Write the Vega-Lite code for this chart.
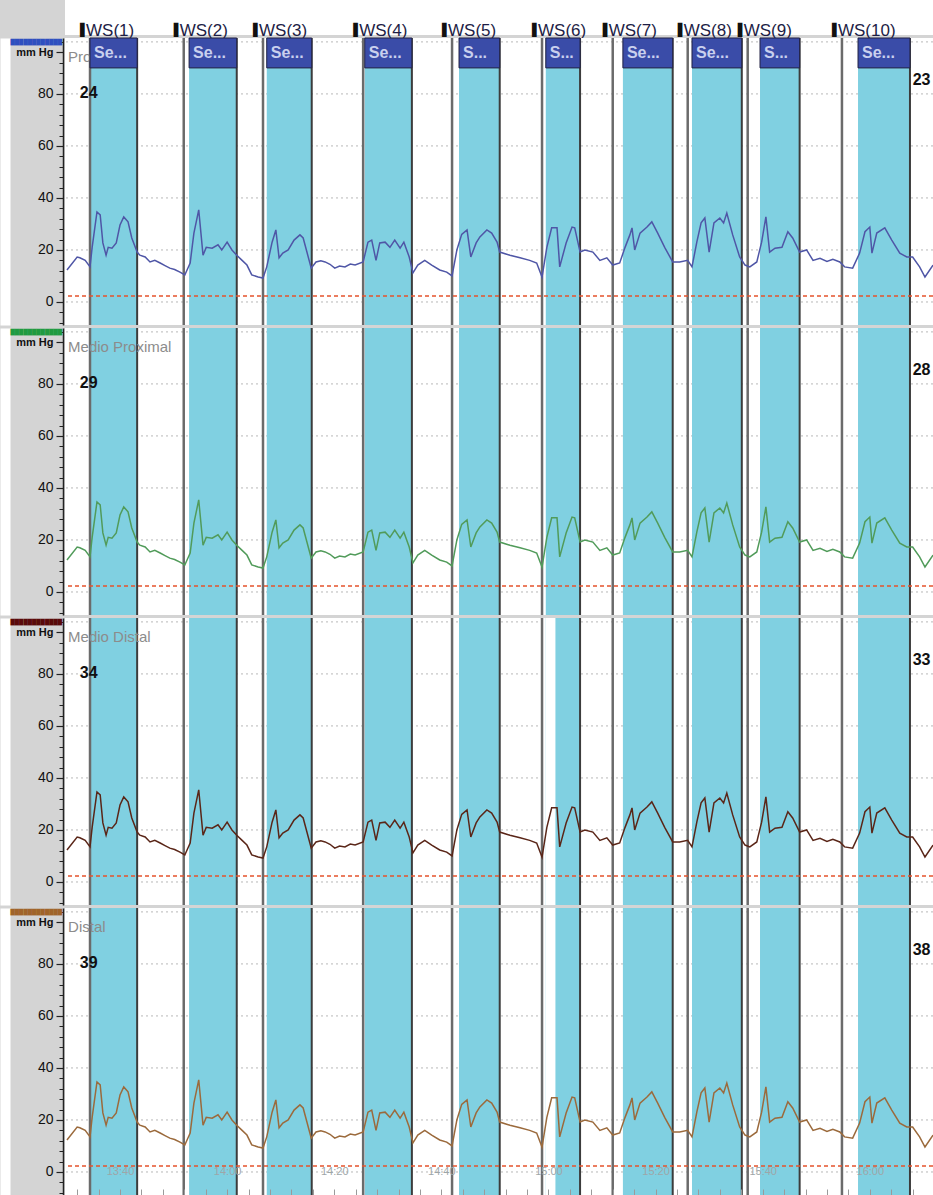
{
"$schema": "https://vega.github.io/schema/vega-lite/v6.json",
"padding": {"left": 5, "top": 0, "right": 0, "bottom": 0},
"background": "#d4d4d4",
"bounds": "flush",
"spacing": 3,
"config": {"view": {"stroke": null, "fill": "white"}, "font": "Liberation Sans", "axis": {"labelOverlap": false}},
"datasets": {
"ws": [{"t":34.4,"name":"WS(1)"},{"t":51.9,"name":"WS(2)"},{"t":66.7,"name":"WS(3)"},{"t":85.4,"name":"WS(4)"},{"t":102.0,"name":"WS(5)"},{"t":118.8,"name":"WS(6)"},{"t":132.0,"name":"WS(7)"},{"t":146.0,"name":"WS(8)"},{"t":157.2,"name":"WS(9)"},{"t":174.8,"name":"WS(10)"}],
"bands": [{"start":34.4,"end":43.2,"hdr":"Se..."},{"start":52.9,"end":61.8,"hdr":"Se..."},{"start":67.4,"end":75.8,"hdr":"Se..."},{"start":85.7,"end":94.5,"hdr":"Se..."},{"start":103.3,"end":110.9,"hdr":"S..."},{"start":119.5,"end":125.9,"hdr":"S..."},{"start":133.9,"end":143.2,"hdr":"Se..."},{"start":146.8,"end":156.1,"hdr":"Se..."},{"start":159.5,"end":166.9,"hdr":"S..."},{"start":177.8,"end":187.5,"hdr":"Se..."}],
"gaps": [{"start":119.5,"end":121.3}],
"refs": [{"level":2.3}],
"grid": [{"level":0},{"level":20},{"level":40},{"level":60},{"level":80},{"level":100}],
"panels": [{"panel":1,"name":"Proximal","left":"24","right":"23"},{"panel":2,"name":"Medio Proximal","left":"29","right":"28"},{"panel":3,"name":"Medio Distal","left":"34","right":"33"},{"panel":4,"name":"Distal","left":"39","right":"38"}],
"trace": [{"t":30.1,"p":12.3},{"t":32.0,"p":17.3},{"t":32.5,"p":17.0},{"t":33.5,"p":16.0},{"t":34.4,"p":13.5},{"t":34.8,"p":21.0},{"t":35.7,"p":34.6},{"t":36.3,"p":33.5},{"t":36.8,"p":22.7},{"t":37.4,"p":18.0},{"t":37.8,"p":21.0},{"t":38.5,"p":20.7},{"t":39.3,"p":22.7},{"t":40.0,"p":29.6},{"t":40.7,"p":32.7},{"t":41.5,"p":30.8},{"t":42.2,"p":24.6},{"t":43.2,"p":19.2},{"t":43.7,"p":18.0},{"t":44.7,"p":17.3},{"t":45.6,"p":15.4},{"t":46.5,"p":16.0},{"t":47.5,"p":15.0},{"t":48.4,"p":14.0},{"t":49.3,"p":13.0},{"t":50.2,"p":12.5},{"t":51.2,"p":11.5},{"t":52.1,"p":10.4},{"t":53.1,"p":15.0},{"t":53.8,"p":26.5},{"t":54.7,"p":35.4},{"t":55.5,"p":18.0},{"t":56.1,"p":21.0},{"t":57.2,"p":20.7},{"t":58.3,"p":22.0},{"t":59.0,"p":20.0},{"t":60.0,"p":23.0},{"t":60.9,"p":20.0},{"t":61.8,"p":18.0},{"t":62.8,"p":16.0},{"t":63.7,"p":14.2},{"t":64.6,"p":10.4},{"t":65.8,"p":9.6},{"t":66.7,"p":9.2},{"t":67.4,"p":13.5},{"t":68.4,"p":23.0},{"t":69.1,"p":27.7},{"t":69.7,"p":17.0},{"t":70.4,"p":18.8},{"t":71.4,"p":20.0},{"t":72.5,"p":23.8},{"t":73.6,"p":25.8},{"t":74.2,"p":24.6},{"t":74.9,"p":19.2},{"t":75.7,"p":13.0},{"t":76.6,"p":15.4},{"t":77.5,"p":15.8},{"t":78.3,"p":15.4},{"t":79.2,"p":14.5},{"t":80.1,"p":13.0},{"t":81.0,"p":13.8},{"t":82.0,"p":13.5},{"t":83.0,"p":14.6},{"t":83.9,"p":14.2},{"t":85.4,"p":15.4},{"t":86.3,"p":23.0},{"t":87.0,"p":23.8},{"t":87.8,"p":16.0},{"t":88.5,"p":22.7},{"t":89.5,"p":23.0},{"t":90.4,"p":21.0},{"t":91.3,"p":23.8},{"t":92.3,"p":20.7},{"t":93.0,"p":23.0},{"t":94.0,"p":17.3},{"t":94.7,"p":11.2},{"t":95.6,"p":14.2},{"t":96.9,"p":16.0},{"t":98.2,"p":14.2},{"t":99.7,"p":12.3},{"t":101.0,"p":11.5},{"t":102.0,"p":10.0},{"t":102.9,"p":20.0},{"t":103.8,"p":26.0},{"t":104.8,"p":27.7},{"t":105.5,"p":17.3},{"t":106.5,"p":22.7},{"t":107.2,"p":25.0},{"t":108.5,"p":27.7},{"t":109.4,"p":26.5},{"t":110.4,"p":23.0},{"t":110.9,"p":19.2},{"t":112.8,"p":18.0},{"t":114.7,"p":17.0},{"t":116.5,"p":16.0},{"t":117.8,"p":15.0},{"t":118.8,"p":9.6},{"t":119.7,"p":21.0},{"t":120.6,"p":28.5},{"t":121.6,"p":28.5},{"t":122.1,"p":13.5},{"t":123.3,"p":22.7},{"t":124.4,"p":28.8},{"t":124.9,"p":28.5},{"t":125.9,"p":19.2},{"t":126.8,"p":20.0},{"t":128.3,"p":19.2},{"t":129.6,"p":16.0},{"t":130.9,"p":17.0},{"t":132.0,"p":14.2},{"t":133.3,"p":15.0},{"t":134.3,"p":21.0},{"t":135.2,"p":25.8},{"t":135.6,"p":28.5},{"t":136.1,"p":20.0},{"t":137.1,"p":26.5},{"t":138.4,"p":28.8},{"t":139.3,"p":30.8},{"t":140.4,"p":26.5},{"t":141.7,"p":21.0},{"t":143.2,"p":15.4},{"t":144.5,"p":15.4},{"t":146.0,"p":16.0},{"t":146.8,"p":13.5},{"t":147.7,"p":23.0},{"t":148.5,"p":30.4},{"t":149.2,"p":32.3},{"t":150.0,"p":19.2},{"t":150.9,"p":30.4},{"t":152.0,"p":32.3},{"t":152.7,"p":30.4},{"t":153.3,"p":34.2},{"t":154.4,"p":25.8},{"t":155.7,"p":17.3},{"t":156.7,"p":14.2},{"t":157.6,"p":13.5},{"t":158.9,"p":15.4},{"t":159.8,"p":23.0},{"t":160.6,"p":32.7},{"t":161.3,"p":19.2},{"t":162.3,"p":20.7},{"t":163.6,"p":21.0},{"t":164.7,"p":27.0},{"t":165.6,"p":24.6},{"t":166.9,"p":19.2},{"t":168.2,"p":20.0},{"t":169.4,"p":16.0},{"t":170.7,"p":16.8},{"t":172.0,"p":15.6},{"t":173.1,"p":16.4},{"t":174.4,"p":15.4},{"t":175.3,"p":13.5},{"t":176.8,"p":13.0},{"t":178.1,"p":18.8},{"t":179.1,"p":27.0},{"t":180.0,"p":28.8},{"t":180.4,"p":18.8},{"t":181.3,"p":26.5},{"t":182.8,"p":28.5},{"t":184.1,"p":23.8},{"t":185.6,"p":18.8},{"t":186.9,"p":17.3},{"t":188.0,"p":17.3},{"t":189.3,"p":13.5},{"t":190.3,"p":9.6},{"t":191.8,"p":14.2}]
},
"vconcat": [
{
 "width": 868, "height": 35,
 "data": {"name": "ws"},
 "layer": [
  {"mark": {"type": "text", "align": "left", "baseline": "alphabetic", "dx": -4, "dy": 18.5, "fontSize": 17, "color": "#1d1d45"},
   "encoding": {"x": {"field": "t", "type": "quantitative", "scale": {"domain": [29.73, 191.8], "nice": false, "zero": false}, "axis": null}, "text": {"field": "name"}}},
  {"mark": {"type": "text", "text": "▌", "align": "left", "baseline": "alphabetic", "dx": -10, "dy": 16, "fontSize": 12, "font": "DejaVu Sans", "color": "#111111"},
   "encoding": {"x": {"field": "t", "type": "quantitative", "scale": {"domain": [29.73, 191.8], "nice": false, "zero": false}, "axis": null}}}
 ]
},
{
 "width": 868, "height": 287,
 "resolve": {"axis": {"x": "independent", "y": "independent"}},
 "layer": [
  {"data": {"name": "grid"}, "mark": {"type": "rule", "color": "#b8b8b8", "strokeDash": [2, 3], "strokeWidth": 1},
   "encoding": {"y": {"field": "level", "type": "quantitative", "scale": {"domain": [-8.85, 101.5], "nice": false, "zero": false},
    "axis": {"orient": "left", "offset": 2, "values": [-8,-4,4,8,12,16,24,28,32,36,44,48,52,56,64,68,72,76,84,88,92,96,100], "labels": false, "domain": false, "ticks": true, "tickSize": 4, "tickColor": "#222222", "tickWidth": 1, "grid": false, "title": null}}}},
  {"data": {"name": "bands"}, "mark": {"type": "rect", "color": "#80d0e1"},
   "encoding": {"x": {"field": "start", "type": "quantitative", "scale": {"domain": [29.73, 191.8], "nice": false, "zero": false}, "axis": null}, "x2": {"field": "end"}}},
  {"data": {"name": "ws"}, "mark": {"type": "rule", "color": "#6b6b6b", "strokeWidth": 2.5},
   "encoding": {"x": {"field": "t", "type": "quantitative", "scale": {"domain": [29.73, 191.8], "nice": false, "zero": false}, "axis": null}}},
  {"data": {"name": "bands"}, "mark": {"type": "rule", "color": "#3c3c3c", "strokeWidth": 2},
   "encoding": {"x": {"field": "end", "type": "quantitative", "scale": {"domain": [29.73, 191.8], "nice": false, "zero": false}, "axis": null}}},
  {"data": {"name": "refs"}, "mark": {"type": "rule", "color": "#e5532d", "strokeDash": [4, 3], "strokeWidth": 1.5},
   "encoding": {"y": {"field": "level", "type": "quantitative", "scale": {"domain": [-8.85, 101.5], "nice": false, "zero": false},
    "axis": {"orient": "left", "offset": 60, "domain": true, "domainColor": "#ffffff", "domainWidth": 10, "ticks": false, "labels": false, "grid": false, "title": null}}}},
  {"data": {"name": "trace"}, "mark": {"type": "line", "color": "#4f56a6", "strokeWidth": 1.5},
   "encoding": {
    "x": {"field": "t", "type": "quantitative", "scale": {"domain": [29.73, 191.8], "nice": false, "zero": false}, "axis": null},
    "y": {"field": "p", "type": "quantitative", "scale": {"domain": [-8.85, 101.5], "nice": false, "zero": false},
     "axis": {"orient": "left", "offset": 2, "values": [0, 20, 40, 60, 80, 96],
      "labelExpr": "datum.value == 96 ? 'mm Hg' : datum.label",
      "labelFontSize": {"condition": {"test": "datum.value == 96", "value": 11}, "value": 14},
      "labelFontWeight": {"condition": {"test": "datum.value == 96", "value": "bold"}, "value": "normal"},
      "labelColor": "#111111", "labelPadding": 3, "labelFlush": false,
      "domain": true, "domainColor": "#222222", "domainWidth": 1.5, "tickColor": "#222222", "tickSize": 7, "tickWidth": 1.2, "grid": false,
      "title": "████████████", "titleFont": "DejaVu Sans", "titleFontSize": 5.6, "titleFontWeight": "normal", "titleColor": "#2f4fbf", "titleAngle": 0, "titleAlign": "left", "titleBaseline": "top", "titleX": -53, "titleY": 1, "titlePadding": 0}}}},
  {"data": {"name": "panels"}, "transform": [{"filter": "datum.panel == 1"}], "mark": {"type": "text", "align": "left", "baseline": "middle", "color": "#8c8c8c", "fontSize": 15},
   "encoding": {"x": {"datum": 30.3, "type": "quantitative", "scale": {"domain": [29.73, 191.8], "nice": false, "zero": false}, "axis": null}, "y": {"datum": 94.2, "type": "quantitative", "scale": {"domain": [-8.85, 101.5], "nice": false, "zero": false}, "axis": null}, "text": {"field": "name"}}},
  {"data": {"name": "panels"}, "transform": [{"filter": "datum.panel == 1"}], "mark": {"type": "text", "align": "left", "baseline": "middle", "color": "#111111", "fontSize": 16, "fontWeight": "bold"},
   "encoding": {"x": {"datum": 32.5, "type": "quantitative", "scale": {"domain": [29.73, 191.8], "nice": false, "zero": false}, "axis": null}, "y": {"datum": 80.3, "type": "quantitative", "scale": {"domain": [-8.85, 101.5], "nice": false, "zero": false}, "axis": null}, "text": {"field": "left"}}},
  {"data": {"name": "panels"}, "transform": [{"filter": "datum.panel == 1"}], "mark": {"type": "text", "align": "left", "baseline": "middle", "color": "#111111", "fontSize": 16, "fontWeight": "bold"},
   "encoding": {"x": {"datum": 188.0, "type": "quantitative", "scale": {"domain": [29.73, 191.8], "nice": false, "zero": false}, "axis": null}, "y": {"datum": 85.3, "type": "quantitative", "scale": {"domain": [-8.85, 101.5], "nice": false, "zero": false}, "axis": null}, "text": {"field": "right"}}},
  {"data": {"name": "bands"}, "mark": {"type": "rect", "color": "#3a4ca8", "stroke": "#222244", "strokeWidth": 1},
   "encoding": {"x": {"field": "start", "type": "quantitative", "scale": {"domain": [29.73, 191.8], "nice": false, "zero": false}, "axis": null}, "x2": {"field": "end"}, "y": {"datum": 90.0, "type": "quantitative", "scale": {"domain": [-8.85, 101.5], "nice": false, "zero": false}, "axis": null}, "y2": {"datum": 101.5}}},
  {"data": {"name": "bands"}, "mark": {"type": "text", "align": "left", "baseline": "middle", "dx": 4, "color": "#c9d0ee", "fontSize": 16, "fontWeight": "bold"},
   "encoding": {"x": {"field": "start", "type": "quantitative", "scale": {"domain": [29.73, 191.8], "nice": false, "zero": false}, "axis": null}, "y": {"datum": 95.7, "type": "quantitative", "scale": {"domain": [-8.85, 101.5], "nice": false, "zero": false}, "axis": null}, "text": {"field": "hdr"}}}
 ]
},
{
 "width": 868, "height": 287,
 "resolve": {"axis": {"x": "independent", "y": "independent"}},
 "layer": [
  {"data": {"name": "grid"}, "mark": {"type": "rule", "color": "#b8b8b8", "strokeDash": [2, 3], "strokeWidth": 1},
   "encoding": {"y": {"field": "level", "type": "quantitative", "scale": {"domain": [-8.85, 101.5], "nice": false, "zero": false},
    "axis": {"orient": "left", "offset": 2, "values": [-8,-4,4,8,12,16,24,28,32,36,44,48,52,56,64,68,72,76,84,88,92,96,100], "labels": false, "domain": false, "ticks": true, "tickSize": 4, "tickColor": "#222222", "tickWidth": 1, "grid": false, "title": null}}}},
  {"data": {"name": "bands"}, "mark": {"type": "rect", "color": "#80d0e1"},
   "encoding": {"x": {"field": "start", "type": "quantitative", "scale": {"domain": [29.73, 191.8], "nice": false, "zero": false}, "axis": null}, "x2": {"field": "end"}}},
  {"data": {"name": "ws"}, "mark": {"type": "rule", "color": "#6b6b6b", "strokeWidth": 2.5},
   "encoding": {"x": {"field": "t", "type": "quantitative", "scale": {"domain": [29.73, 191.8], "nice": false, "zero": false}, "axis": null}}},
  {"data": {"name": "bands"}, "mark": {"type": "rule", "color": "#3c3c3c", "strokeWidth": 2},
   "encoding": {"x": {"field": "end", "type": "quantitative", "scale": {"domain": [29.73, 191.8], "nice": false, "zero": false}, "axis": null}}},
  {"data": {"name": "refs"}, "mark": {"type": "rule", "color": "#e5532d", "strokeDash": [4, 3], "strokeWidth": 1.5},
   "encoding": {"y": {"field": "level", "type": "quantitative", "scale": {"domain": [-8.85, 101.5], "nice": false, "zero": false},
    "axis": {"orient": "left", "offset": 60, "domain": true, "domainColor": "#ffffff", "domainWidth": 10, "ticks": false, "labels": false, "grid": false, "title": null}}}},
  {"data": {"name": "trace"}, "mark": {"type": "line", "color": "#519b5a", "strokeWidth": 1.5},
   "encoding": {
    "x": {"field": "t", "type": "quantitative", "scale": {"domain": [29.73, 191.8], "nice": false, "zero": false}, "axis": null},
    "y": {"field": "p", "type": "quantitative", "scale": {"domain": [-8.85, 101.5], "nice": false, "zero": false},
     "axis": {"orient": "left", "offset": 2, "values": [0, 20, 40, 60, 80, 96],
      "labelExpr": "datum.value == 96 ? 'mm Hg' : datum.label",
      "labelFontSize": {"condition": {"test": "datum.value == 96", "value": 11}, "value": 14},
      "labelFontWeight": {"condition": {"test": "datum.value == 96", "value": "bold"}, "value": "normal"},
      "labelColor": "#111111", "labelPadding": 3, "labelFlush": false,
      "domain": true, "domainColor": "#222222", "domainWidth": 1.5, "tickColor": "#222222", "tickSize": 7, "tickWidth": 1.2, "grid": false,
      "title": "████████████", "titleFont": "DejaVu Sans", "titleFontSize": 5.6, "titleFontWeight": "normal", "titleColor": "#209a40", "titleAngle": 0, "titleAlign": "left", "titleBaseline": "top", "titleX": -53, "titleY": 1, "titlePadding": 0}}}},
  {"data": {"name": "panels"}, "transform": [{"filter": "datum.panel == 2"}], "mark": {"type": "text", "align": "left", "baseline": "middle", "color": "#8c8c8c", "fontSize": 15},
   "encoding": {"x": {"datum": 30.3, "type": "quantitative", "scale": {"domain": [29.73, 191.8], "nice": false, "zero": false}, "axis": null}, "y": {"datum": 94.2, "type": "quantitative", "scale": {"domain": [-8.85, 101.5], "nice": false, "zero": false}, "axis": null}, "text": {"field": "name"}}},
  {"data": {"name": "panels"}, "transform": [{"filter": "datum.panel == 2"}], "mark": {"type": "text", "align": "left", "baseline": "middle", "color": "#111111", "fontSize": 16, "fontWeight": "bold"},
   "encoding": {"x": {"datum": 32.5, "type": "quantitative", "scale": {"domain": [29.73, 191.8], "nice": false, "zero": false}, "axis": null}, "y": {"datum": 80.3, "type": "quantitative", "scale": {"domain": [-8.85, 101.5], "nice": false, "zero": false}, "axis": null}, "text": {"field": "left"}}},
  {"data": {"name": "panels"}, "transform": [{"filter": "datum.panel == 2"}], "mark": {"type": "text", "align": "left", "baseline": "middle", "color": "#111111", "fontSize": 16, "fontWeight": "bold"},
   "encoding": {"x": {"datum": 188.0, "type": "quantitative", "scale": {"domain": [29.73, 191.8], "nice": false, "zero": false}, "axis": null}, "y": {"datum": 85.3, "type": "quantitative", "scale": {"domain": [-8.85, 101.5], "nice": false, "zero": false}, "axis": null}, "text": {"field": "right"}}}
 ]
},
{
 "width": 868, "height": 287,
 "resolve": {"axis": {"x": "independent", "y": "independent"}},
 "layer": [
  {"data": {"name": "grid"}, "mark": {"type": "rule", "color": "#b8b8b8", "strokeDash": [2, 3], "strokeWidth": 1},
   "encoding": {"y": {"field": "level", "type": "quantitative", "scale": {"domain": [-8.85, 101.5], "nice": false, "zero": false},
    "axis": {"orient": "left", "offset": 2, "values": [-8,-4,4,8,12,16,24,28,32,36,44,48,52,56,64,68,72,76,84,88,92,96,100], "labels": false, "domain": false, "ticks": true, "tickSize": 4, "tickColor": "#222222", "tickWidth": 1, "grid": false, "title": null}}}},
  {"data": {"name": "bands"}, "mark": {"type": "rect", "color": "#80d0e1"},
   "encoding": {"x": {"field": "start", "type": "quantitative", "scale": {"domain": [29.73, 191.8], "nice": false, "zero": false}, "axis": null}, "x2": {"field": "end"}}},
  {"data": {"name": "gaps"}, "mark": {"type": "rect", "color": "#ffffff"},
   "encoding": {"x": {"field": "start", "type": "quantitative", "scale": {"domain": [29.73, 191.8], "nice": false, "zero": false}, "axis": null}, "x2": {"field": "end"}}},
  {"data": {"name": "ws"}, "mark": {"type": "rule", "color": "#6b6b6b", "strokeWidth": 2.5},
   "encoding": {"x": {"field": "t", "type": "quantitative", "scale": {"domain": [29.73, 191.8], "nice": false, "zero": false}, "axis": null}}},
  {"data": {"name": "bands"}, "mark": {"type": "rule", "color": "#3c3c3c", "strokeWidth": 2},
   "encoding": {"x": {"field": "end", "type": "quantitative", "scale": {"domain": [29.73, 191.8], "nice": false, "zero": false}, "axis": null}}},
  {"data": {"name": "refs"}, "mark": {"type": "rule", "color": "#e5532d", "strokeDash": [4, 3], "strokeWidth": 1.5},
   "encoding": {"y": {"field": "level", "type": "quantitative", "scale": {"domain": [-8.85, 101.5], "nice": false, "zero": false},
    "axis": {"orient": "left", "offset": 60, "domain": true, "domainColor": "#ffffff", "domainWidth": 10, "ticks": false, "labels": false, "grid": false, "title": null}}}},
  {"data": {"name": "trace"}, "mark": {"type": "line", "color": "#5a2618", "strokeWidth": 1.5},
   "encoding": {
    "x": {"field": "t", "type": "quantitative", "scale": {"domain": [29.73, 191.8], "nice": false, "zero": false}, "axis": null},
    "y": {"field": "p", "type": "quantitative", "scale": {"domain": [-8.85, 101.5], "nice": false, "zero": false},
     "axis": {"orient": "left", "offset": 2, "values": [0, 20, 40, 60, 80, 96],
      "labelExpr": "datum.value == 96 ? 'mm Hg' : datum.label",
      "labelFontSize": {"condition": {"test": "datum.value == 96", "value": 11}, "value": 14},
      "labelFontWeight": {"condition": {"test": "datum.value == 96", "value": "bold"}, "value": "normal"},
      "labelColor": "#111111", "labelPadding": 3, "labelFlush": false,
      "domain": true, "domainColor": "#222222", "domainWidth": 1.5, "tickColor": "#222222", "tickSize": 7, "tickWidth": 1.2, "grid": false,
      "title": "████████████", "titleFont": "DejaVu Sans", "titleFontSize": 5.6, "titleFontWeight": "normal", "titleColor": "#5a0a0a", "titleAngle": 0, "titleAlign": "left", "titleBaseline": "top", "titleX": -53, "titleY": 1, "titlePadding": 0}}}},
  {"data": {"name": "panels"}, "transform": [{"filter": "datum.panel == 3"}], "mark": {"type": "text", "align": "left", "baseline": "middle", "color": "#8c8c8c", "fontSize": 15},
   "encoding": {"x": {"datum": 30.3, "type": "quantitative", "scale": {"domain": [29.73, 191.8], "nice": false, "zero": false}, "axis": null}, "y": {"datum": 94.2, "type": "quantitative", "scale": {"domain": [-8.85, 101.5], "nice": false, "zero": false}, "axis": null}, "text": {"field": "name"}}},
  {"data": {"name": "panels"}, "transform": [{"filter": "datum.panel == 3"}], "mark": {"type": "text", "align": "left", "baseline": "middle", "color": "#111111", "fontSize": 16, "fontWeight": "bold"},
   "encoding": {"x": {"datum": 32.5, "type": "quantitative", "scale": {"domain": [29.73, 191.8], "nice": false, "zero": false}, "axis": null}, "y": {"datum": 80.3, "type": "quantitative", "scale": {"domain": [-8.85, 101.5], "nice": false, "zero": false}, "axis": null}, "text": {"field": "left"}}},
  {"data": {"name": "panels"}, "transform": [{"filter": "datum.panel == 3"}], "mark": {"type": "text", "align": "left", "baseline": "middle", "color": "#111111", "fontSize": 16, "fontWeight": "bold"},
   "encoding": {"x": {"datum": 188.0, "type": "quantitative", "scale": {"domain": [29.73, 191.8], "nice": false, "zero": false}, "axis": null}, "y": {"datum": 85.3, "type": "quantitative", "scale": {"domain": [-8.85, 101.5], "nice": false, "zero": false}, "axis": null}, "text": {"field": "right"}}}
 ]
},
{
 "width": 868, "height": 287,
 "resolve": {"axis": {"x": "independent", "y": "independent"}},
 "layer": [
  {"data": {"name": "grid"}, "mark": {"type": "rule", "color": "#b8b8b8", "strokeDash": [2, 3], "strokeWidth": 1},
   "encoding": {"y": {"field": "level", "type": "quantitative", "scale": {"domain": [-8.85, 101.5], "nice": false, "zero": false},
    "axis": {"orient": "left", "offset": 2, "values": [-8,-4,4,8,12,16,24,28,32,36,44,48,52,56,64,68,72,76,84,88,92,96,100], "labels": false, "domain": false, "ticks": true, "tickSize": 4, "tickColor": "#222222", "tickWidth": 1, "grid": false, "title": null}}}},
  {"data": {"name": "bands"}, "mark": {"type": "rect", "color": "#80d0e1"},
   "encoding": {"x": {"field": "start", "type": "quantitative", "scale": {"domain": [29.73, 191.8], "nice": false, "zero": false},
    "axis": {"orient": "bottom", "values": [32,36,44,48,52,56,64,68,72,76,84,88,92,96,104,108,112,116,124,128,132,136,144,148,152,156,164,168,172,176,184,188], "labels": false, "domain": false, "ticks": true, "tickSize": -6, "tickColor": "#9a9a9a", "tickWidth": 1, "grid": false, "title": null, "zindex": 1}}, "x2": {"field": "end"}}},
  {"data": {"name": "gaps"}, "mark": {"type": "rect", "color": "#ffffff"},
   "encoding": {"x": {"field": "start", "type": "quantitative", "scale": {"domain": [29.73, 191.8], "nice": false, "zero": false}, "axis": null}, "x2": {"field": "end"}}},
  {"data": {"name": "ws"}, "mark": {"type": "rule", "color": "#6b6b6b", "strokeWidth": 2.5},
   "encoding": {"x": {"field": "t", "type": "quantitative", "scale": {"domain": [29.73, 191.8], "nice": false, "zero": false}, "axis": null}}},
  {"data": {"name": "bands"}, "mark": {"type": "rule", "color": "#3c3c3c", "strokeWidth": 2},
   "encoding": {"x": {"field": "end", "type": "quantitative", "scale": {"domain": [29.73, 191.8], "nice": false, "zero": false}, "axis": null}}},
  {"data": {"name": "refs"}, "mark": {"type": "rule", "color": "#e5532d", "strokeDash": [4, 3], "strokeWidth": 1.5},
   "encoding": {"y": {"field": "level", "type": "quantitative", "scale": {"domain": [-8.85, 101.5], "nice": false, "zero": false},
    "axis": {"orient": "left", "offset": 60, "domain": true, "domainColor": "#ffffff", "domainWidth": 10, "ticks": false, "labels": false, "grid": false, "title": null}}}},
  {"data": {"name": "trace"}, "mark": {"type": "line", "color": "#9b6a3c", "strokeWidth": 1.5},
   "encoding": {
    "x": {"field": "t", "type": "quantitative", "scale": {"domain": [29.73, 191.8], "nice": false, "zero": false},
     "axis": {"orient": "bottom", "values": [40, 60, 80, 100, 120, 140, 160, 180],
      "labelExpr": "(floor(datum.value / 60) + 13) + ':' + (datum.value % 60 == 0 ? '00' : (datum.value % 60))",
      "domain": false, "ticks": true, "tickSize": -6, "tickColor": "#9a9a9a", "tickWidth": 1, "labelColor": "#9ea6a8", "labelFontSize": 11, "labelPadding": -18, "labelBaseline": "middle", "labelFlush": false, "grid": false, "zindex": 1, "title": null}},
    "y": {"field": "p", "type": "quantitative", "scale": {"domain": [-8.85, 101.5], "nice": false, "zero": false},
     "axis": {"orient": "left", "offset": 2, "values": [0, 20, 40, 60, 80, 96],
      "labelExpr": "datum.value == 96 ? 'mm Hg' : datum.label",
      "labelFontSize": {"condition": {"test": "datum.value == 96", "value": 11}, "value": 14},
      "labelFontWeight": {"condition": {"test": "datum.value == 96", "value": "bold"}, "value": "normal"},
      "labelColor": "#111111", "labelPadding": 3, "labelFlush": false,
      "domain": true, "domainColor": "#222222", "domainWidth": 1.5, "tickColor": "#222222", "tickSize": 7, "tickWidth": 1.2, "grid": false,
      "title": "████████████", "titleFont": "DejaVu Sans", "titleFontSize": 5.6, "titleFontWeight": "normal", "titleColor": "#a0642a", "titleAngle": 0, "titleAlign": "left", "titleBaseline": "top", "titleX": -53, "titleY": 1, "titlePadding": 0}}}},
  {"data": {"name": "panels"}, "transform": [{"filter": "datum.panel == 4"}], "mark": {"type": "text", "align": "left", "baseline": "middle", "color": "#8c8c8c", "fontSize": 15},
   "encoding": {"x": {"datum": 30.3, "type": "quantitative", "scale": {"domain": [29.73, 191.8], "nice": false, "zero": false}, "axis": null}, "y": {"datum": 94.2, "type": "quantitative", "scale": {"domain": [-8.85, 101.5], "nice": false, "zero": false}, "axis": null}, "text": {"field": "name"}}},
  {"data": {"name": "panels"}, "transform": [{"filter": "datum.panel == 4"}], "mark": {"type": "text", "align": "left", "baseline": "middle", "color": "#111111", "fontSize": 16, "fontWeight": "bold"},
   "encoding": {"x": {"datum": 32.5, "type": "quantitative", "scale": {"domain": [29.73, 191.8], "nice": false, "zero": false}, "axis": null}, "y": {"datum": 80.3, "type": "quantitative", "scale": {"domain": [-8.85, 101.5], "nice": false, "zero": false}, "axis": null}, "text": {"field": "left"}}},
  {"data": {"name": "panels"}, "transform": [{"filter": "datum.panel == 4"}], "mark": {"type": "text", "align": "left", "baseline": "middle", "color": "#111111", "fontSize": 16, "fontWeight": "bold"},
   "encoding": {"x": {"datum": 188.0, "type": "quantitative", "scale": {"domain": [29.73, 191.8], "nice": false, "zero": false}, "axis": null}, "y": {"datum": 85.3, "type": "quantitative", "scale": {"domain": [-8.85, 101.5], "nice": false, "zero": false}, "axis": null}, "text": {"field": "right"}}}
 ]
}
]
}
